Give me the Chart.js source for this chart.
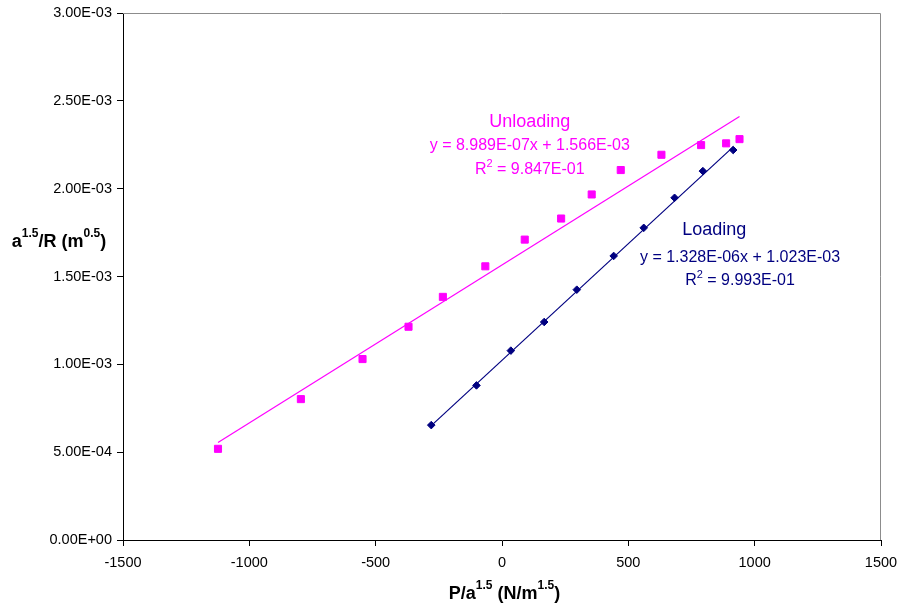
<!DOCTYPE html>
<html>
<head>
<meta charset="utf-8">
<script src="https://cdn.jsdelivr.net/npm/chart.js@4.4.0/dist/chart.umd.min.js"></script>
<style>
  html, body { margin: 0; padding: 0; background: #ffffff; }
  #wrap { width: 901px; height: 609px; position: relative; }
</style>
</head>
<body>
<div id="wrap"><canvas id="c" width="901" height="609"></canvas></div>
<script>
// Loading branch: P/a^1.5 (N/m^1.5) vs a^1.5/R (m^0.5)
const loadingX = [-280, -101, 35, 167, 296, 442, 561, 683, 795, 915];
const loadingY = [6.54e-4, 8.80e-4, 1.078e-3, 1.241e-3, 1.425e-3, 1.617e-3, 1.777e-3, 1.948e-3, 2.100e-3, 2.220e-3];

// Unloading branch
const unloadingX = [-1124, -796, -552, -370, -234, -66, 90, 234, 355, 470, 631, 788, 887, 940];
const unloadingY = [5.19e-4, 8.02e-4, 1.030e-3, 1.214e-3, 1.384e-3, 1.558e-3, 1.710e-3, 1.830e-3, 1.967e-3, 2.106e-3, 2.193e-3, 2.248e-3, 2.258e-3, 2.282e-3];

// Linear trendline coefficients (slope, intercept, R^2)
const loadingFit = [1.328e-6, 1.023e-3, 9.993e-1];
const unloadingFit = [8.989e-7, 1.566e-3, 9.847e-1];

// Axis ticks
const xTicks = [-1500, -1000, -500, 0, 500, 1000, 1500];
const yTicks = [0, 5e-4, 1e-3, 1.5e-3, 2e-3, 2.5e-3, 3e-3];

const MAGENTA = '#FF00FF';
const NAVY = '#000080';
const FONT = 'Arial, "Liberation Sans", Helvetica, sans-serif';

function sci(v, digits) {
  const s = Number(v).toExponential(digits === undefined ? 2 : digits).split('e');
  const e = parseInt(s[1], 10);
  return s[0].toUpperCase() + 'E' + (e < 0 ? '-' : '+') + String(Math.abs(e)).padStart(2, '0');
}

function fitLine(fit, xs) {
  const x0 = Math.min(...xs), x1 = Math.max(...xs);
  return [{ x: x0, y: fit[0] * x0 + fit[1] }, { x: x1, y: fit[0] * x1 + fit[1] }];
}

const pts = (xs, ys) => xs.map((x, i) => ({ x: x, y: ys[i] }));

// Draws a row of text pieces, some of them superscripted, centred at cx
function drawRich(ctx, parts, cx, baseY, size, supSize, raise, color, weight) {
  ctx.save();
  ctx.fillStyle = color;
  ctx.textBaseline = 'alphabetic';
  ctx.textAlign = 'left';
  let total = 0;
  parts.forEach(p => {
    ctx.font = weight + ' ' + (p.sup ? supSize : size) + 'px ' + FONT;
    p.w = ctx.measureText(p.t).width;
    total += p.w;
  });
  let x = cx - total / 2;
  parts.forEach(p => {
    ctx.font = weight + ' ' + (p.sup ? supSize : size) + 'px ' + FONT;
    ctx.fillText(p.t, x, p.sup ? baseY - raise : baseY);
    x += p.w;
  });
  ctx.restore();
}

const decorations = {
  id: 'decorations',
  beforeDatasetsDraw(chart) {
    const { ctx, chartArea: a } = chart;
    ctx.save();
    ctx.strokeStyle = '#8c8c8c';
    ctx.lineWidth = 1;
    ctx.beginPath();
    ctx.moveTo(a.left, a.top + 0.5);
    ctx.lineTo(a.right - 0.5, a.top + 0.5);
    ctx.lineTo(a.right - 0.5, a.bottom);
    ctx.stroke();
    ctx.restore();
  },
  afterDraw(chart) {
    const { ctx, scales } = chart;
    const sx = scales.x, sy = scales.y;

    // axis titles
    drawRich(ctx, [{ t: 'a' }, { t: '1.5', sup: true }, { t: '/R (m' }, { t: '0.5', sup: true }, { t: ')' }],
      59, 246.5, 18, 12, 10, '#000', 'bold');
    drawRich(ctx, [{ t: 'P/a' }, { t: '1.5', sup: true }, { t: ' (N/m' }, { t: '1.5', sup: true }, { t: ')' }],
      sx.getPixelForValue(10), 598.5, 18, 12, 10, '#000', 'bold');

    // trendline labels
    const ux = sx.getPixelForValue(110);
    drawRich(ctx, [{ t: 'Unloading' }], ux, sy.getPixelForValue(2.35e-3), 18, 12, 7, MAGENTA, 'normal');
    drawRich(ctx, [{ t: 'y = ' + sci(unloadingFit[0], 3) + 'x + ' + sci(unloadingFit[1], 3) }],
      ux, sy.getPixelForValue(2.2186e-3), 16, 11, 7, MAGENTA, 'normal');
    drawRich(ctx, [{ t: 'R' }, { t: '2', sup: true }, { t: ' = ' + sci(unloadingFit[2], 3) }],
      ux, sy.getPixelForValue(2.0857e-3), 16, 11, 7, MAGENTA, 'normal');

    const lx = sx.getPixelForValue(840);
    const lx2 = sx.getPixelForValue(942);
    drawRich(ctx, [{ t: 'Loading' }], lx, sy.getPixelForValue(1.7355e-3), 18, 12, 7, NAVY, 'normal');
    drawRich(ctx, [{ t: 'y = ' + sci(loadingFit[0], 3) + 'x + ' + sci(loadingFit[1], 3) }],
      lx2, sy.getPixelForValue(1.5838e-3), 16, 11, 7, NAVY, 'normal');
    drawRich(ctx, [{ t: 'R' }, { t: '2', sup: true }, { t: ' = ' + sci(loadingFit[2], 3) }],
      lx2, sy.getPixelForValue(1.4544e-3), 16, 11, 7, NAVY, 'normal');
  }
};

new Chart(document.getElementById('c'), {
  type: 'scatter',
  data: {
    datasets: [
      {
        label: 'Unloading fit',
        type: 'line',
        data: fitLine(unloadingFit, unloadingX),
        borderColor: MAGENTA,
        borderWidth: 1.2,
        pointRadius: 0,
        fill: false
      },
      {
        label: 'Loading fit',
        type: 'line',
        data: fitLine(loadingFit, loadingX),
        borderColor: NAVY,
        borderWidth: 1.2,
        pointRadius: 0,
        fill: false
      },
      {
        label: 'Unloading',
        data: pts(unloadingX, unloadingY),
        pointStyle: 'rect',
        pointRadius: 5,
        backgroundColor: MAGENTA,
        borderColor: MAGENTA,
        borderWidth: 1
      },
      {
        label: 'Loading',
        data: pts(loadingX, loadingY),
        pointStyle: 'rectRot',
        pointRadius: 3.8,
        backgroundColor: NAVY,
        borderColor: NAVY,
        borderWidth: 1
      }
    ]
  },
  options: {
    responsive: false,
    animation: false,
    devicePixelRatio: 1,
    layout: { padding: { left: 0, right: 20, top: 13, bottom: 0 } },
    plugins: {
      legend: { display: false },
      tooltip: { enabled: false },
      title: { display: false }
    },
    scales: {
      x: {
        type: 'linear',
        min: xTicks[0],
        max: xTicks[xTicks.length - 1],
        afterBuildTicks(scale) { scale.ticks = xTicks.map(v => ({ value: v })); },
        afterFit(scale) {
          scale.height = 69;
          scale.paddingLeft = 0;
          scale.paddingRight = 0;
        },
        ticks: {
          color: '#000',
          font: { family: FONT, size: 14.5 },
          padding: 8,
          maxRotation: 0,
          callback: v => String(v)
        },
        grid: { drawOnChartArea: false, drawTicks: true, tickLength: 6, color: '#000' },
        border: { display: true, color: '#000', width: 1 }
      },
      y: {
        type: 'linear',
        min: yTicks[0],
        max: yTicks[yTicks.length - 1],
        afterBuildTicks(scale) { scale.ticks = yTicks.map(v => ({ value: v })); },
        afterFit(scale) {
          scale.width = 123;
          scale.paddingTop = 0;
          scale.paddingBottom = 0;
        },
        ticks: {
          color: '#000',
          font: { family: FONT, size: 14.5 },
          padding: 5,
          callback: v => sci(v, 2)
        },
        grid: { drawOnChartArea: false, drawTicks: true, tickLength: 6, color: '#000' },
        border: { display: true, color: '#000', width: 1 }
      }
    }
  },
  plugins: [decorations]
});
</script>
</body>
</html>
